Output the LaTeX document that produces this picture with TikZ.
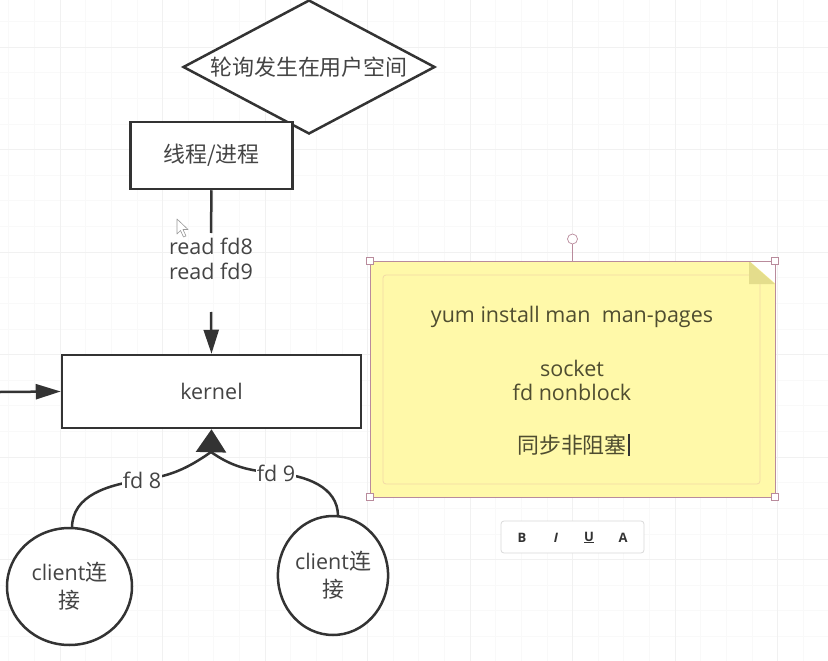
\documentclass[tikz,border=0pt]{standalone}
\usepackage{fontspec}
\setmainfont{Open Sans}
\newfontfamily\cjk[Scale=1.02]{Noto Sans CJK SC}
\usetikzlibrary{shapes.geometric,arrows.meta}
\definecolor{ink}{HTML}{333333}
\definecolor{txt}{HTML}{444444}
\definecolor{notefill}{HTML}{FFF9A9}
\definecolor{noteinner}{HTML}{F2D9A6}
\definecolor{notetxt}{HTML}{4F4D30}
\definecolor{foldc}{HTML}{E4DD8C}
\definecolor{selc}{HTML}{B98B9C}
\definecolor{gridmaj}{HTML}{F1F1F1}
\definecolor{gridmin}{HTML}{F9F9F9}
\newcommand{\zh}[1]{{\cjk #1}}
\tikzset{
  lbl/.style={font=\fontsize{21.5}{25}\selectfont, text=txt, inner sep=1pt, align=center},
  shapebox/.style={draw=ink, line width=2.5pt, fill=white, rectangle, inner sep=0pt},
  conn/.style={draw=ink, line width=2.5pt},
  handle/.style={draw=selc, fill=white, line width=0.7pt, minimum size=7pt, inner sep=0pt, rectangle},
  notelbl/.style={font=\fontsize{21.5}{24}\selectfont, text=notetxt, inner sep=1pt, align=center},
  tbl/.style={font=\fontsize{13}{15}\selectfont\bfseries, text=ink, inner sep=0pt},
}
\begin{document}
\begin{tikzpicture}[x=1pt,y=-1pt]
\useasboundingbox (0,0) rectangle (828,661);
\fill[white] (0,0) rectangle (828,661);
% grid
\foreach \x in {8.75,34.375,...,828} \draw[gridmin,line width=0.6pt] (\x,0) -- (\x,661);
\foreach \y in {21.375,47,...,661} \draw[gridmin,line width=0.6pt] (0,\y) -- (828,\y);
\foreach \x in {60,162.5,...,828} \draw[gridmaj,line width=0.8pt] (\x,0) -- (\x,661);
\foreach \y in {47,149.5,...,661} \draw[gridmaj,line width=0.8pt] (0,\y) -- (828,\y);

% diamond
\node[diamond, draw=ink, line width=2.5pt, fill=white, aspect=1.88, inner sep=0pt,
      minimum width=252pt, minimum height=134pt, lbl] (poll) at (309,67) {\zh{轮询发生在用户空间}};
% thread box
\node[shapebox, minimum width=162pt, minimum height=67pt, lbl] (thread) at (211.5,155.5) {\zh{线程/进程}};
% kernel box
\node[shapebox, minimum width=299pt, minimum height=73pt, lbl] (kernel) at (211.5,391.5) {kernel};

% read label
\node[lbl] (reads) at (211,259) {read fd8\\read fd9};
\coordinate (rstop) at (211,233);
\coordinate (rstart) at (211,312);
\draw[conn] (thread.south) -- (rstop);
\draw[conn, -{Triangle[length=24pt,width=15pt]}] (rstart) -- (kernel.north);

% left incoming arrow
\coordinate (leftin) at (0,392);
\draw[conn, -{Triangle[length=25pt,width=15pt]}] (leftin) -- (kernel.west);

% clients
\node[ellipse, draw=ink, line width=2.5pt, fill=white, minimum width=125pt, minimum height=117pt, inner sep=0pt,
      lbl, font=\fontsize{21.5}{28}\selectfont] (c1) at (69.5,586.5) {client\zh{连}\\\zh{接}};
\node[ellipse, draw=ink, line width=2.5pt, fill=white, minimum width=110pt, minimum height=119pt, inner sep=0pt,
      lbl, font=\fontsize{21.5}{28}\selectfont] (c2) at (333,575.5) {client\zh{连}\\\zh{接}};

% converging connectors
\coordinate (base) at (211,452);
\coordinate (m1) at (142,480);
\coordinate (m2) at (276,473);
\draw[conn] (72,528) to[out=90,in=188] (m1) to[out=8,in=215] (base);
\draw[conn] (338,516) to[out=90,in=-5] (m2) to[out=175,in=-35] (base);
\draw[conn, -{Triangle[length=23pt,width=30pt]}] (base) -- (kernel.south);
\node[lbl, fill=white, inner sep=1pt] (fd8) at (m1) {fd 8};
\node[lbl, fill=white, inner sep=1pt] (fd9) at (m2) {fd 9};

% mouse pointer
\draw[gray!80, fill=white, line width=0.6pt, line join=round]
  (177,219) -- (177,234) -- (180.5,230.5) -- (183.5,237) -- (186,236) -- (183,229.5) -- (188,229.5) -- cycle;

% sticky note
\node[rectangle, fill=notefill, minimum width=405pt, minimum height=236pt, inner sep=0pt] (note) at (572.5,379) {};
\draw[noteinner, line width=0.8pt, rounded corners=3pt] (383,275) rectangle (760,484);
\fill[white] (749,260.5) -- (776,260.5) -- (776,284) -- cycle;
\fill[foldc] (749,261) -- (775,284) -- (749,284) -- cycle;
\draw[selc, line width=0.6pt] (note.north west) rectangle (note.south east);
\node[handle] (h1) at (note.north west) {};
\node[handle] (h2) at (note.north east) {};
\node[handle] (h3) at (note.south west) {};
\node[handle] (h4) at (note.south east) {};
\node[circle, draw=selc, fill=white, line width=0.7pt, minimum size=10pt, inner sep=0pt] (rot) at (572.5,239) {};
\draw[selc, line width=0.9pt] (rot.south) -- (note.north);

\node[notelbl] (yum) at (572,317) {yum install man\ \ man-pages};
\node[notelbl] (sock) at (572,380) {socket\\fd nonblock};
\node[notelbl] (sync) at (572,445) {\zh{同步非阻塞}};
\draw[ink, line width=1.2pt] ([xshift=1pt]sync.north east) -- ([xshift=1pt]sync.south east);

% toolbar
\node[rectangle, rounded corners=3pt, draw=gray!30, fill=white, line width=0.8pt,
      minimum width=143pt, minimum height=32pt] (tb) at (572.5,537) {};
\node[tbl] (tbB) at (522,537.5) {B};
\node[tbl, font=\fontsize{13}{15}\selectfont\bfseries\itshape] (tbI) at (556,537.5) {I};
\node[tbl] (tbU) at (589,537.5) {\underline{U}};
\node[tbl] (tbA) at (623,537.5) {A};
\end{tikzpicture}
\end{document}
